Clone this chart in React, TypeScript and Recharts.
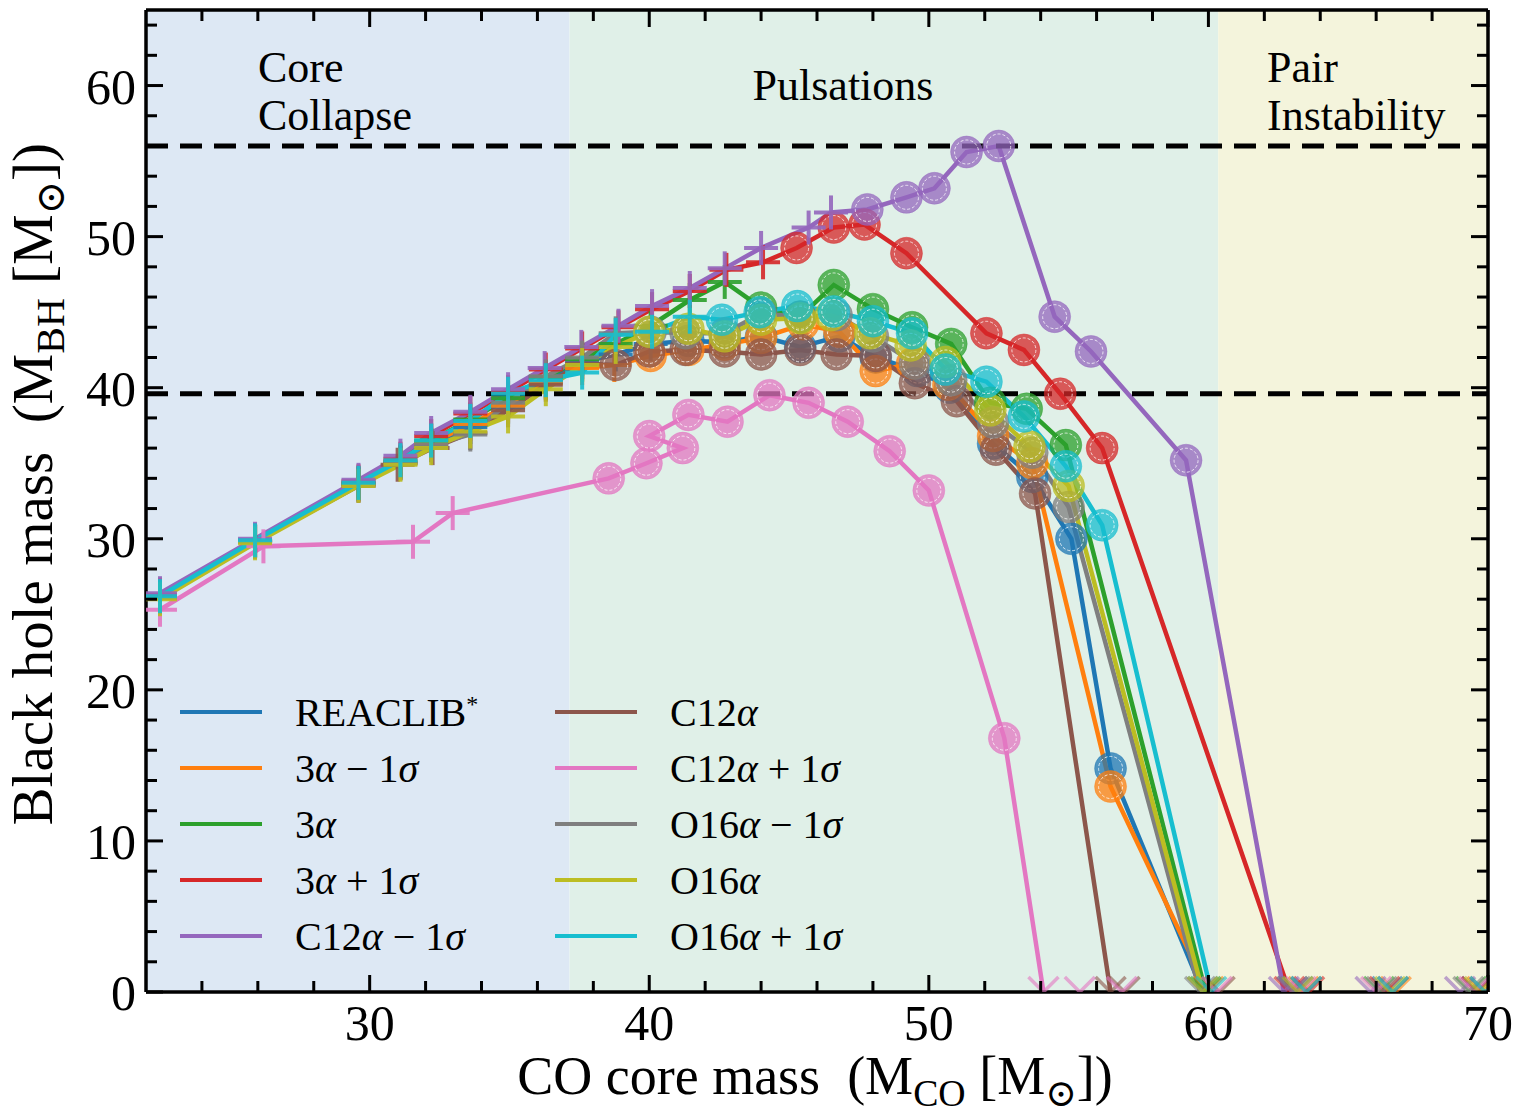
import { ComposedChart, Line, Scatter, XAxis, YAxis, ReferenceArea, ReferenceLine } from 'recharts';

const FONT = '"Liberation Serif", "DejaVu Serif", serif';

// axis ticks
const xMajor = [30, 40, 50, 60, 70];
const xMinor = [24, 26, 28, 32, 34, 36, 38, 42, 44, 46, 48, 52, 54, 56, 58, 62, 64, 66, 68];
const yMajor = [0, 10, 20, 30, 40, 50, 60];
const yMinor = [2, 4, 6, 8, 12, 14, 16, 18, 22, 24, 26, 28, 32, 34, 36, 38, 42, 44, 46, 48, 52, 54, 56, 58, 62, 64];

// regimes (CO core mass boundaries) and reference BH masses
const regionEdges = [22, 37.15, 60.35, 70];
const regionNames = [['Core', 'Collapse'], ['Pulsations'], ['Pair', 'Instability']];
const gapLimits = [56, 39.6];

// [CO core mass, BH mass] : core collapse models (+), pulsating models (circles), no remnant (x at zero)
const reaclibCC = [[22.5, 26.1], [25.9, 29.8], [29.6, 33.6], [31.1, 35.0], [32.2, 36.2], [33.6, 37.4], [34.95, 38.7], [36.3, 40.4], [37.6, 41.7], [38.8, 42.2], [40.05, 42.9]];
const reaclibPPI = [[41.4, 43.1], [42.7, 43.0], [44.0, 43.4], [45.4, 42.7], [46.8, 43.4], [48.1, 42.0], [49.6, 41.1], [50.75, 40.0], [52.3, 36.3], [53.7, 34.1], [55.1, 30.0], [56.5, 14.8]];
const reaclibPISN = [59.8, 63.2, 66.4, 69.6];

const triMinusCC = [[22.5, 26.1], [25.9, 29.8], [29.6, 33.6], [31.1, 35.0], [32.2, 36.3], [33.6, 37.6], [34.95, 38.8], [36.3, 40.3], [37.6, 41.3], [38.75, 41.5]];
const triMinusPPI = [[40.05, 42.1], [41.4, 42.5], [42.7, 42.85], [44.0, 43.3], [45.5, 44.2], [46.8, 43.7], [48.1, 41.1], [49.4, 41.6], [50.7, 40.2], [52.3, 36.8], [53.7, 35.0], [56.5, 13.6]];
const triMinusPISN = [60.0, 63.4, 66.7, 69.8];

const triCC = [[22.5, 26.2], [25.9, 29.9], [29.6, 33.7], [31.1, 35.1], [32.2, 36.5], [33.6, 37.9], [34.95, 39.3], [36.3, 40.7], [37.6, 41.9], [38.8, 42.9], [40.05, 44.1], [41.45, 45.8], [42.7, 47.0]];
const triPPI = [[44.0, 45.3], [45.4, 44.7], [46.6, 46.8], [48.0, 45.2], [49.4, 44.0], [50.8, 42.9], [52.2, 39.0], [53.5, 38.6], [54.9, 36.2]];
const triPISN = [59.9, 63.0, 66.1, 69.4];

const triPlusCC = [[22.5, 26.3], [25.9, 29.9], [29.6, 33.8], [31.1, 35.3], [32.2, 36.8], [33.6, 38.3], [34.95, 39.7], [36.3, 41.2], [37.6, 42.6], [38.9, 44.0], [40.1, 45.2], [41.45, 46.4], [42.76, 47.8], [44.07, 48.3]];
const triPlusPPI = [[45.27, 49.25], [46.6, 50.6], [47.7, 50.8], [49.2, 48.9], [52.06, 43.6], [53.4, 42.5], [54.7, 39.6], [56.2, 36.0]];
const triPlusPISN = [62.9, 63.6, 66.3, 69.6];

const c12MinusCC = [[22.5, 26.4], [25.9, 30.0], [29.6, 33.9], [31.1, 35.5], [32.2, 37.0], [33.6, 38.4], [34.95, 39.9], [36.26, 41.3], [37.57, 42.7], [38.9, 44.1], [40.1, 45.4], [41.45, 46.6], [42.7, 47.9], [44.0, 49.25], [45.7, 50.6], [46.5, 51.6]];
const c12MinusPPI = [[47.8, 51.8], [49.2, 52.6], [50.2, 53.2], [51.35, 55.6], [52.5, 56.0], [54.5, 44.7], [55.8, 42.4], [59.2, 35.2]];
const c12MinusPISN = [62.7, 63.0, 65.8, 69.0];

const c12CC = [[22.5, 26.1], [25.9, 29.8], [29.6, 33.5], [31.0, 34.9], [32.25, 36.0], [33.6, 37.0], [34.95, 38.5], [36.3, 40.2], [37.6, 41.6]];
const c12PPI = [[38.8, 41.5], [40.0, 42.4], [41.3, 42.5], [42.7, 42.4], [44.0, 42.2], [45.4, 42.5], [46.7, 42.2], [48.1, 42.1], [49.5, 40.3], [51.0, 39.1], [52.4, 35.9], [53.8, 33.0]];
const c12PISN = [56.5, 57.0, 60.4, 63.5, 66.6, 69.9];

const c12PlusCC = [[22.5, 25.3], [26.2, 29.5], [31.55, 29.8], [32.97, 31.7]];
const c12PlusPPI = [[38.55, 34.0], [39.9, 35.0], [41.2, 36.0], [40.0, 36.8], [41.4, 38.2], [42.8, 37.75], [44.3, 39.5], [45.7, 39.0], [47.1, 37.75], [48.6, 35.8], [50.0, 33.2], [52.7, 16.8]];
const c12PlusPISN = [54.1, 55.4, 56.9, 60.3, 63.3, 66.0, 69.5];

const o16MinusCC = [[22.5, 26.1], [25.9, 29.8], [29.6, 33.6], [31.1, 35.0], [32.2, 36.2], [33.6, 36.9], [34.95, 39.0], [36.3, 40.75], [37.6, 42.0], [38.8, 43.6]];
const o16MinusPPI = [[40.05, 43.7], [41.3, 43.6], [42.7, 43.6], [44.0, 44.9], [45.4, 44.7], [46.7, 44.8], [48.0, 43.4], [49.5, 41.6], [50.8, 40.5], [52.3, 37.7], [53.7, 35.7], [55.0, 32.1]];
const o16MinusPISN = [59.7, 63.1, 66.2, 69.3];

const o16CC = [[22.5, 26.0], [25.9, 29.7], [29.6, 33.5], [31.1, 34.9], [32.2, 36.0], [33.6, 37.1], [34.95, 38.1], [36.3, 39.9], [37.6, 41.5], [38.8, 42.7]];
const o16PPI = [[40.0, 43.7], [41.4, 43.9], [42.7, 43.4], [44.0, 44.5], [45.4, 44.6], [46.5, 44.8], [47.9, 43.6], [49.35, 42.8], [50.6, 41.7], [52.2, 38.5], [53.6, 36.1], [55.0, 33.5]];
const o16PISN = [59.8, 63.2, 66.5, 69.7];

const o16PlusCC = [[22.5, 26.2], [25.9, 29.9], [29.6, 33.7], [31.1, 35.2], [32.2, 36.5], [33.6, 37.8], [34.95, 39.6], [36.3, 40.5], [37.6, 41.0], [38.8, 43.5], [40.1, 43.7], [41.45, 44.7]];
const o16PlusPPI = [[42.6, 44.5], [43.95, 45.0], [45.3, 45.4], [46.6, 45.05], [48.0, 44.4], [49.4, 43.6], [50.6, 41.2], [52.06, 40.4], [53.4, 38.1], [54.9, 34.8], [56.2, 30.9]];
const o16PlusPISN = [60.1, 63.5, 66.6, 69.9];

const series = [
  { name: 'REACLIB*', color: '#1f77b4', cc: reaclibCC, ppi: reaclibPPI, pisn: reaclibPISN },
  { name: '3α − 1σ', color: '#ff7f0e', cc: triMinusCC, ppi: triMinusPPI, pisn: triMinusPISN },
  { name: '3α', color: '#2ca02c', cc: triCC, ppi: triPPI, pisn: triPISN },
  { name: '3α + 1σ', color: '#d62728', cc: triPlusCC, ppi: triPlusPPI, pisn: triPlusPISN },
  { name: 'C12α − 1σ', color: '#9467bd', cc: c12MinusCC, ppi: c12MinusPPI, pisn: c12MinusPISN },
  { name: 'C12α', color: '#8c564b', cc: c12CC, ppi: c12PPI, pisn: c12PISN },
  { name: 'C12α + 1σ', color: '#e377c2', cc: c12PlusCC, ppi: c12PlusPPI, pisn: c12PlusPISN },
  { name: 'O16α − 1σ', color: '#7f7f7f', cc: o16MinusCC, ppi: o16MinusPPI, pisn: o16MinusPISN },
  { name: 'O16α', color: '#bcbd22', cc: o16CC, ppi: o16PPI, pisn: o16PISN },
  { name: 'O16α + 1σ', color: '#17becf', cc: o16PlusCC, ppi: o16PlusPPI, pisn: o16PlusPISN },
];

const regionColors = ['#dde8f4', '#e0f0e8', '#f4f4dc'];

function lineRows(s: any) {
  return [
    ...s.cc.map(([x, y]: number[]) => ({ x, y, kind: 'cc' })),
    ...s.ppi.map(([x, y]: number[]) => ({ x, y, kind: 'ppi' })),
    { x: s.pisn[0], y: 0, kind: 'end' },
  ];
}

const makeDot = (color: string) => (p: any) => {
  const { cx, cy, payload, index } = p;
  if (payload.kind === 'cc') {
    return (
      <g key={`d${index}`} opacity={0.9}>
        <line x1={cx - 17} x2={cx + 17} y1={cy} y2={cy} stroke={color} strokeWidth={4} />
        <line x1={cx} x2={cx} y1={cy - 17} y2={cy + 17} stroke={color} strokeWidth={4} />
      </g>
    );
  }
  if (payload.kind === 'ppi') {
    return (
      <g key={`d${index}`}>
        <circle cx={cx} cy={cy} r={16} fill={color} fillOpacity={0.75} stroke={color} strokeOpacity={0.4} strokeWidth={1} />
        <circle cx={cx} cy={cy} r={12} fill="none" stroke="#fff" strokeOpacity={0.75} strokeWidth={1} strokeDasharray="3 2" />
      </g>
    );
  }
  return <g key={`d${index}`} />;
};

const makeCross = (color: string) => (p: any) => {
  const { cx, cy } = p;
  return (
    <path
      d={`M${cx - 15},${cy - 15} L${cx},${cy} L${cx + 15},${cy - 15}`}
      fill="none"
      stroke={color}
      strokeOpacity={0.6}
      strokeWidth={3.5}
    />
  );
};

function BottomTick(p: any) {
  const { x, y, payload } = p;
  const major = xMajor.includes(payload.value);
  return (
    <g>
      <line x1={x} x2={x} y1={y} y2={y - (major ? 17 : 11)} stroke="#000" strokeWidth={3} />
      {major && (
        <text x={x} y={y + 48} textAnchor="middle" fontSize={50} fontFamily={FONT} fill="#000">
          {payload.value}
        </text>
      )}
    </g>
  );
}

function TopTick(p: any) {
  const { x, y, payload } = p;
  const major = xMajor.includes(payload.value);
  return <line x1={x} x2={x} y1={y} y2={y + (major ? 17 : 11)} stroke="#000" strokeWidth={3} />;
}

function LeftTick(p: any) {
  const { x, y, payload } = p;
  const major = yMajor.includes(payload.value);
  return (
    <g>
      <line x1={x} x2={x + (major ? 17 : 11)} y1={y} y2={y} stroke="#000" strokeWidth={3} />
      {major && (
        <text x={x - 10} y={y} dy="0.36em" textAnchor="end" fontSize={50} fontFamily={FONT} fill="#000">
          {payload.value}
        </text>
      )}
    </g>
  );
}

function RightTick(p: any) {
  const { x, y, payload } = p;
  const major = yMajor.includes(payload.value);
  return <line x1={x} x2={x - (major ? 17 : 11)} y1={y} y2={y} stroke="#000" strokeWidth={3} />;
}

function MathLabel({ text }: { text: string }) {
  return (
    <>
      {Array.from(text).map((ch, i) =>
        ch === 'α' || ch === 'σ' ? (
          <i key={i}>{ch}</i>
        ) : ch === '*' ? (
          <sup key={i} style={{ fontSize: '0.6em' }}>*</sup>
        ) : (
          <span key={i}>{ch}</span>
        )
      )}
    </>
  );
}

const W = 1518;
const H = 1112;
// plot area: x 146..1488, y 10..992 (axes take 1px each)
const M = { top: 9, right: 29, bottom: 119, left: 145 };

export default function App() {
  const xTicks = [...xMajor, ...xMinor].sort((a, b) => a - b);
  const yTicks = [...yMajor, ...yMinor].sort((a, b) => a - b);
  const spine = { stroke: '#000', strokeWidth: 3.5 };

  return (
    <div style={{ position: 'absolute', left: 0, top: 0, width: W, height: H, background: '#fff', fontFamily: FONT }}>
      <ComposedChart width={W} height={H} margin={M}>
        {regionColors.map((c, i) => (
          <ReferenceArea
            key={`r${i}`}
            x1={regionEdges[i]}
            x2={regionEdges[i + 1]}
            y1={0}
            y2={65}
            fill={c}
            fillOpacity={1}
            stroke="none"
          />
        ))}
        <XAxis
          type="number"
          dataKey="x"
          domain={[22, 70]}
          allowDataOverflow
          ticks={xTicks}
          interval={0}
          height={1}
          tickSize={0}
          tickMargin={0}
          tick={BottomTick}
          axisLine={spine}
        />
        <XAxis
          xAxisId="top"
          orientation="top"
          type="number"
          dataKey="x"
          domain={[22, 70]}
          allowDataOverflow
          ticks={xTicks}
          interval={0}
          height={1}
          tickSize={0}
          tickMargin={0}
          tick={TopTick}
          axisLine={spine}
        />
        <YAxis
          type="number"
          dataKey="y"
          domain={[0, 65]}
          allowDataOverflow
          ticks={yTicks}
          interval={0}
          width={1}
          tickSize={0}
          tickMargin={0}
          tick={LeftTick}
          axisLine={spine}
        />
        <YAxis
          yAxisId="right"
          orientation="right"
          type="number"
          dataKey="y"
          domain={[0, 65]}
          allowDataOverflow
          ticks={yTicks}
          interval={0}
          width={1}
          tickSize={0}
          tickMargin={0}
          tick={RightTick}
          axisLine={spine}
        />
        {series.map((s) => (
          <Line
            key={s.name}
            data={lineRows(s)}
            dataKey="y"
            type="linear"
            stroke={s.color}
            strokeWidth={4.5}
            dot={makeDot(s.color)}
            activeDot={false}
            isAnimationActive={false}
          />
        ))}
        {series.map((s) => (
          <Scatter
            key={`x-${s.name}`}
            data={s.pisn.map((x) => ({ x, y: 0 }))}
            dataKey="y"
            shape={makeCross(s.color)}
            isAnimationActive={false}
          />
        ))}
        {gapLimits.map((g) => (
          <ReferenceLine key={`g${g}`} y={g} stroke="#000" strokeWidth={5} strokeDasharray="22 12" />
        ))}
      </ComposedChart>

      {/* region labels */}
      <div style={{ position: 'absolute', left: 258, top: 44, fontSize: 44, lineHeight: '48px' }}>
        {regionNames[0].map((t) => <div key={t}>{t}</div>)}
      </div>
      <div style={{ position: 'absolute', left: 843 - 150, width: 300, top: 62, fontSize: 44, lineHeight: '48px', textAlign: 'center' }}>
        {regionNames[1][0]}
      </div>
      <div style={{ position: 'absolute', left: 1267, top: 44, fontSize: 44, lineHeight: '48px' }}>
        {regionNames[2].map((t) => <div key={t}>{t}</div>)}
      </div>

      {/* legend */}
      <div style={{ position: 'absolute', left: 180, top: 684, display: 'grid', gridTemplateColumns: '375px 375px', gridAutoFlow: 'column', gridTemplateRows: 'repeat(5, 56px)' }}>
        {series.map((s) => (
          <div key={s.name} style={{ display: 'flex', alignItems: 'center', height: 56 }}>
            <div style={{ width: 82, height: 4.5, background: s.color, marginRight: 33 }} />
            <span style={{ fontSize: 40, whiteSpace: 'nowrap' }}>
              <MathLabel text={s.name} />
            </span>
          </div>
        ))}
      </div>

      {/* axis titles */}
      <div style={{ position: 'absolute', left: 0, width: W, top: 1046, textAlign: 'center', fontSize: 54, lineHeight: '60px' }}>
        <span style={{ position: 'relative', left: 56 }}>
          CO core mass &nbsp;(M<sub style={{ fontSize: '0.7em' }}>CO</sub> [M<sub style={{ fontSize: '0.7em' }}>⊙</sub>])
        </span>
      </div>
      <div
        style={{
          position: 'absolute',
          left: 42,
          top: 475,
          width: 900,
          marginLeft: -450,
          marginTop: -30,
          textAlign: 'center',
          fontSize: 57,
          lineHeight: '60px',
          transform: 'rotate(-90deg)',
        }}
      >
        Black hole mass &nbsp;(M<sub style={{ fontSize: '0.7em' }}>BH</sub> [M<sub style={{ fontSize: '0.7em' }}>⊙</sub>])
      </div>
    </div>
  );
}
